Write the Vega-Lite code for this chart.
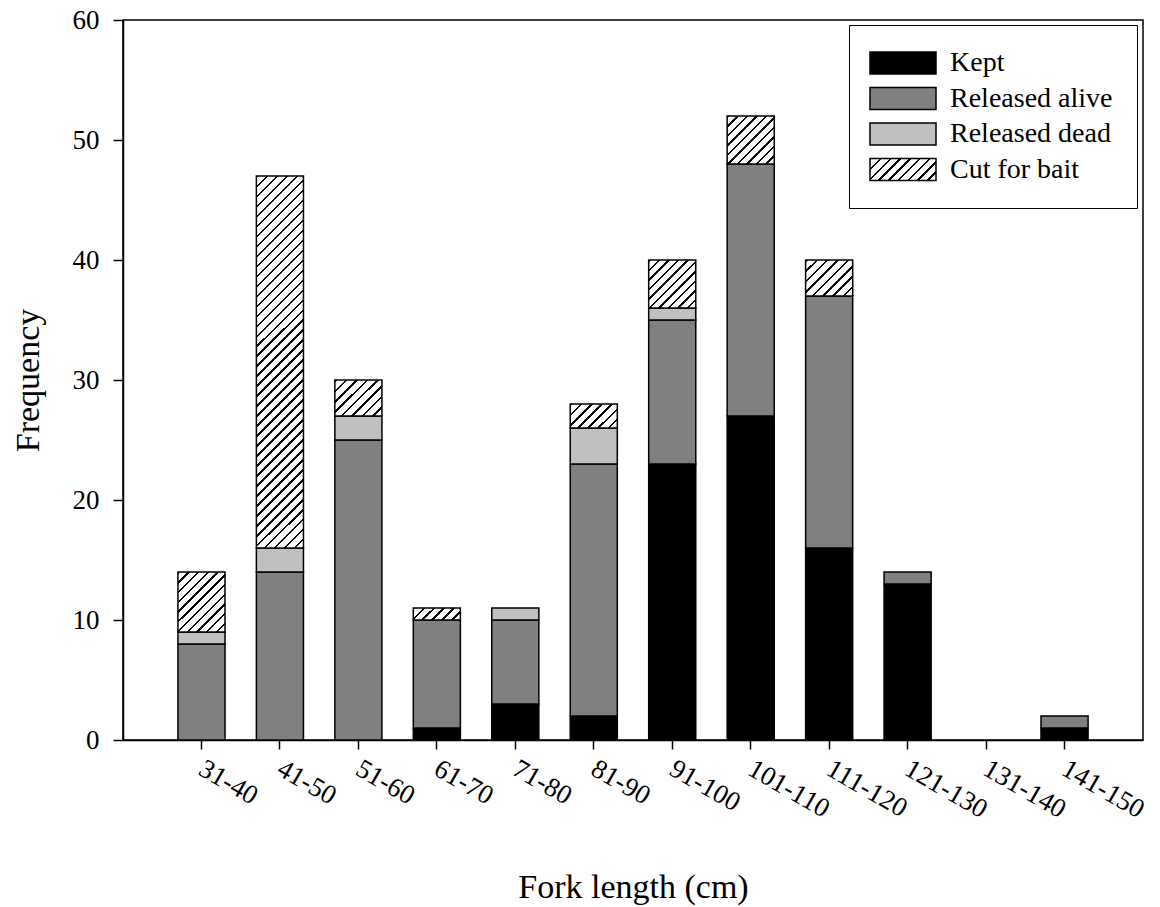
{
  "$schema": "https://vega.github.io/schema/vega-lite/v6.json",
  "autosize": {"type": "none"},
  "width": 1020,
  "height": 720,
  "padding": {"left": 123, "top": 20, "right": 17, "bottom": 167},
  "background": "white",
  "config": {
    "font": "Liberation Serif",
    "view": {"stroke": "black", "strokeWidth": 1.5},
    "axis": {
      "grid": false,
      "domainColor": "black",
      "domainWidth": 1.5,
      "tickColor": "black",
      "tickWidth": 1.5,
      "labelColor": "black",
      "labelFont": "Liberation Serif",
      "labelFontSize": 27,
      "titleFont": "Liberation Serif",
      "titleFontSize": 34,
      "titleFontWeight": "normal",
      "titleColor": "black"
    }
  },
  "data": {
    "values": [
      {"bin": "31-40", "status": "Released alive", "count": 8},
      {"bin": "31-40", "status": "Released dead", "count": 1},
      {"bin": "31-40", "status": "Cut for bait", "count": 5},
      {"bin": "41-50", "status": "Released alive", "count": 14},
      {"bin": "41-50", "status": "Released dead", "count": 2},
      {"bin": "41-50", "status": "Cut for bait", "count": 31},
      {"bin": "51-60", "status": "Released alive", "count": 25},
      {"bin": "51-60", "status": "Released dead", "count": 2},
      {"bin": "51-60", "status": "Cut for bait", "count": 3},
      {"bin": "61-70", "status": "Kept", "count": 1},
      {"bin": "61-70", "status": "Released alive", "count": 9},
      {"bin": "61-70", "status": "Cut for bait", "count": 1},
      {"bin": "71-80", "status": "Kept", "count": 3},
      {"bin": "71-80", "status": "Released alive", "count": 7},
      {"bin": "71-80", "status": "Released dead", "count": 1},
      {"bin": "81-90", "status": "Kept", "count": 2},
      {"bin": "81-90", "status": "Released alive", "count": 21},
      {"bin": "81-90", "status": "Released dead", "count": 3},
      {"bin": "81-90", "status": "Cut for bait", "count": 2},
      {"bin": "91-100", "status": "Kept", "count": 23},
      {"bin": "91-100", "status": "Released alive", "count": 12},
      {"bin": "91-100", "status": "Released dead", "count": 1},
      {"bin": "91-100", "status": "Cut for bait", "count": 4},
      {"bin": "101-110", "status": "Kept", "count": 27},
      {"bin": "101-110", "status": "Released alive", "count": 21},
      {"bin": "101-110", "status": "Cut for bait", "count": 4},
      {"bin": "111-120", "status": "Kept", "count": 16},
      {"bin": "111-120", "status": "Released alive", "count": 21},
      {"bin": "111-120", "status": "Cut for bait", "count": 3},
      {"bin": "121-130", "status": "Kept", "count": 13},
      {"bin": "121-130", "status": "Released alive", "count": 1},
      {"bin": "141-150", "status": "Kept", "count": 1},
      {"bin": "141-150", "status": "Released alive", "count": 1}
    ]
  },
  "transform": [
    {"calculate": "indexof(['Kept','Released alive','Released dead','Cut for bait'], datum.status)", "as": "rank"}
  ],
  "mark": {"type": "bar", "stroke": "black", "strokeWidth": 1.5},
  "encoding": {
    "x": {
      "field": "bin",
      "type": "nominal",
      "scale": {
        "domain": ["31-40","41-50","51-60","61-70","71-80","81-90","91-100","101-110","111-120","121-130","131-140","141-150"],
        "paddingInner": 0.4,
        "paddingOuter": 0.7
      },
      "axis": {
        "title": "Fork length (cm)",
        "labelAngle": 30,
        "labelAlign": "left",
        "labelBaseline": "top",
        "labelOffset": 6,
        "tickSize": 9,
        "labelPadding": 6,
        "titleY": 157,
        "titleBaseline": "alphabetic"
      }
    },
    "y": {
      "field": "count",
      "type": "quantitative",
      "stack": "zero",
      "scale": {"domain": [0, 60], "nice": false},
      "axis": {
        "title": "Frequency",
        "values": [0, 10, 20, 30, 40, 50, 60],
        "tickSize": 10,
        "labelPadding": 14,
        "titleX": -85,
        "titleBaseline": "alphabetic"
      }
    },
    "order": {"field": "rank", "type": "quantitative"},
    "fill": {
      "field": "status",
      "type": "nominal",
      "scale": {
        "domain": ["Kept", "Released alive", "Released dead", "Cut for bait"],
        "range": ["#000000", "#808080", "#c0c0c0",
          {"expr": "{gradient: 'linear', x1: 0, y1: 0, x2: 1.2, y2: 0.4, stops: [{offset: 0, color: '#000'}, {offset: 0.0278, color: '#000'}, {offset: 0.0278, color: '#fff'}, {offset: 0.1111, color: '#fff'}, {offset: 0.1111, color: '#000'}, {offset: 0.1389, color: '#000'}, {offset: 0.1389, color: '#fff'}, {offset: 0.2222, color: '#fff'}, {offset: 0.2222, color: '#000'}, {offset: 0.25, color: '#000'}, {offset: 0.25, color: '#fff'}, {offset: 0.3333, color: '#fff'}, {offset: 0.3333, color: '#000'}, {offset: 0.3611, color: '#000'}, {offset: 0.3611, color: '#fff'}, {offset: 0.4444, color: '#fff'}, {offset: 0.4444, color: '#000'}, {offset: 0.4722, color: '#000'}, {offset: 0.4722, color: '#fff'}, {offset: 0.5556, color: '#fff'}, {offset: 0.5556, color: '#000'}, {offset: 0.5833, color: '#000'}, {offset: 0.5833, color: '#fff'}, {offset: 0.6667, color: '#fff'}, {offset: 0.6667, color: '#000'}, {offset: 0.6944, color: '#000'}, {offset: 0.6944, color: '#fff'}, {offset: 0.7778, color: '#fff'}, {offset: 0.7778, color: '#000'}, {offset: 0.8056, color: '#000'}, {offset: 0.8056, color: '#fff'}, {offset: 0.8889, color: '#fff'}, {offset: 0.8889, color: '#000'}, {offset: 0.9167, color: '#000'}, {offset: 0.9167, color: '#fff'}, {offset: 1, color: '#fff'}]}"}
        ]
      },
      "condition": [
        {"test": "datum.status === 'Cut for bait' && datum.count === 1", "value": {"gradient": "linear", "x1": 0, "y1": 0, "x2": 1.1785, "y2": 0.3009, "stops": [
          {"offset":0,"color":"#000"},{"offset":0.0417,"color":"#000"},{"offset":0.0417,"color":"#fff"},{"offset":0.1667,"color":"#fff"},
          {"offset":0.1667,"color":"#000"},{"offset":0.2083,"color":"#000"},{"offset":0.2083,"color":"#fff"},{"offset":0.3333,"color":"#fff"},
          {"offset":0.3333,"color":"#000"},{"offset":0.375,"color":"#000"},{"offset":0.375,"color":"#fff"},{"offset":0.5,"color":"#fff"},
          {"offset":0.5,"color":"#000"},{"offset":0.5417,"color":"#000"},{"offset":0.5417,"color":"#fff"},{"offset":0.6667,"color":"#fff"},
          {"offset":0.6667,"color":"#000"},{"offset":0.7083,"color":"#000"},{"offset":0.7083,"color":"#fff"},{"offset":0.8333,"color":"#fff"},
          {"offset":0.8333,"color":"#000"},{"offset":0.875,"color":"#000"},{"offset":0.875,"color":"#fff"},{"offset":1,"color":"#fff"}
        ]}},
        {"test": "datum.status === 'Cut for bait' && datum.count === 2", "value": {"gradient": "linear", "x1": 0, "y1": 0, "x2": 1.1982, "y2": 0.6119, "stops": [
          {"offset":0,"color":"#000"},{"offset":0.0357,"color":"#000"},{"offset":0.0357,"color":"#fff"},{"offset":0.1429,"color":"#fff"},
          {"offset":0.1429,"color":"#000"},{"offset":0.1786,"color":"#000"},{"offset":0.1786,"color":"#fff"},{"offset":0.2857,"color":"#fff"},
          {"offset":0.2857,"color":"#000"},{"offset":0.3214,"color":"#000"},{"offset":0.3214,"color":"#fff"},{"offset":0.4286,"color":"#fff"},
          {"offset":0.4286,"color":"#000"},{"offset":0.4643,"color":"#000"},{"offset":0.4643,"color":"#fff"},{"offset":0.5714,"color":"#fff"},
          {"offset":0.5714,"color":"#000"},{"offset":0.6071,"color":"#000"},{"offset":0.6071,"color":"#fff"},{"offset":0.7143,"color":"#fff"},
          {"offset":0.7143,"color":"#000"},{"offset":0.75,"color":"#000"},{"offset":0.75,"color":"#fff"},{"offset":0.8571,"color":"#fff"},
          {"offset":0.8571,"color":"#000"},{"offset":0.8929,"color":"#000"},{"offset":0.8929,"color":"#fff"},{"offset":1,"color":"#fff"}
        ]}},
        {"test": "datum.status === 'Cut for bait' && datum.count === 3", "value": {"gradient": "linear", "x1": 0, "y1": 0, "x2": 1.113, "y2": 0.8525, "stops": [
          {"offset":0,"color":"#000"},{"offset":0.0313,"color":"#000"},{"offset":0.0313,"color":"#fff"},{"offset":0.125,"color":"#fff"},
          {"offset":0.125,"color":"#000"},{"offset":0.1563,"color":"#000"},{"offset":0.1563,"color":"#fff"},{"offset":0.25,"color":"#fff"},
          {"offset":0.25,"color":"#000"},{"offset":0.2813,"color":"#000"},{"offset":0.2813,"color":"#fff"},{"offset":0.375,"color":"#fff"},
          {"offset":0.375,"color":"#000"},{"offset":0.4063,"color":"#000"},{"offset":0.4063,"color":"#fff"},{"offset":0.5,"color":"#fff"},
          {"offset":0.5,"color":"#000"},{"offset":0.5313,"color":"#000"},{"offset":0.5313,"color":"#fff"},{"offset":0.625,"color":"#fff"},
          {"offset":0.625,"color":"#000"},{"offset":0.6563,"color":"#000"},{"offset":0.6563,"color":"#fff"},{"offset":0.75,"color":"#fff"},
          {"offset":0.75,"color":"#000"},{"offset":0.7813,"color":"#000"},{"offset":0.7813,"color":"#fff"},{"offset":0.875,"color":"#fff"},
          {"offset":0.875,"color":"#000"},{"offset":0.9063,"color":"#000"},{"offset":0.9063,"color":"#fff"},{"offset":1,"color":"#fff"}
        ]}},
        {"test": "datum.status === 'Cut for bait' && datum.count === 4", "value": {"gradient": "linear", "x1": 0, "y1": 0, "x2": 0.9894, "y2": 1.0104, "stops": [
          {"offset":0,"color":"#000"},{"offset":0.025,"color":"#000"},{"offset":0.025,"color":"#fff"},{"offset":0.1,"color":"#fff"},
          {"offset":0.1,"color":"#000"},{"offset":0.125,"color":"#000"},{"offset":0.125,"color":"#fff"},{"offset":0.2,"color":"#fff"},
          {"offset":0.2,"color":"#000"},{"offset":0.225,"color":"#000"},{"offset":0.225,"color":"#fff"},{"offset":0.3,"color":"#fff"},
          {"offset":0.3,"color":"#000"},{"offset":0.325,"color":"#000"},{"offset":0.325,"color":"#fff"},{"offset":0.4,"color":"#fff"},
          {"offset":0.4,"color":"#000"},{"offset":0.425,"color":"#000"},{"offset":0.425,"color":"#fff"},{"offset":0.5,"color":"#fff"},
          {"offset":0.5,"color":"#000"},{"offset":0.525,"color":"#000"},{"offset":0.525,"color":"#fff"},{"offset":0.6,"color":"#fff"},
          {"offset":0.6,"color":"#000"},{"offset":0.625,"color":"#000"},{"offset":0.625,"color":"#fff"},{"offset":0.7,"color":"#fff"},
          {"offset":0.7,"color":"#000"},{"offset":0.725,"color":"#000"},{"offset":0.725,"color":"#fff"},{"offset":0.8,"color":"#fff"},
          {"offset":0.8,"color":"#000"},{"offset":0.825,"color":"#000"},{"offset":0.825,"color":"#fff"},{"offset":0.9,"color":"#fff"},
          {"offset":0.9,"color":"#000"},{"offset":0.925,"color":"#000"},{"offset":0.925,"color":"#fff"},{"offset":1,"color":"#fff"}
        ]}},
        {"test": "datum.status === 'Cut for bait' && datum.count === 5", "value": {"gradient": "linear", "x1": 0, "y1": 0, "x2": 0.8657, "y2": 1.1052, "stops": [
          {"offset":0,"color":"#000"},{"offset":0.0227,"color":"#000"},{"offset":0.0227,"color":"#fff"},{"offset":0.0909,"color":"#fff"},
          {"offset":0.0909,"color":"#000"},{"offset":0.1136,"color":"#000"},{"offset":0.1136,"color":"#fff"},{"offset":0.1818,"color":"#fff"},
          {"offset":0.1818,"color":"#000"},{"offset":0.2045,"color":"#000"},{"offset":0.2045,"color":"#fff"},{"offset":0.2727,"color":"#fff"},
          {"offset":0.2727,"color":"#000"},{"offset":0.2955,"color":"#000"},{"offset":0.2955,"color":"#fff"},{"offset":0.3636,"color":"#fff"},
          {"offset":0.3636,"color":"#000"},{"offset":0.3864,"color":"#000"},{"offset":0.3864,"color":"#fff"},{"offset":0.4545,"color":"#fff"},
          {"offset":0.4545,"color":"#000"},{"offset":0.4773,"color":"#000"},{"offset":0.4773,"color":"#fff"},{"offset":0.5455,"color":"#fff"},
          {"offset":0.5455,"color":"#000"},{"offset":0.5682,"color":"#000"},{"offset":0.5682,"color":"#fff"},{"offset":0.6364,"color":"#fff"},
          {"offset":0.6364,"color":"#000"},{"offset":0.6591,"color":"#000"},{"offset":0.6591,"color":"#fff"},{"offset":0.7273,"color":"#fff"},
          {"offset":0.7273,"color":"#000"},{"offset":0.75,"color":"#000"},{"offset":0.75,"color":"#fff"},{"offset":0.8182,"color":"#fff"},
          {"offset":0.8182,"color":"#000"},{"offset":0.8409,"color":"#000"},{"offset":0.8409,"color":"#fff"},{"offset":0.9091,"color":"#fff"},
          {"offset":0.9091,"color":"#000"},{"offset":0.9318,"color":"#000"},{"offset":0.9318,"color":"#fff"},{"offset":1,"color":"#fff"}
        ]}},
        {"test": "datum.status === 'Cut for bait' && datum.count === 31", "value": {"gradient": "linear", "x1": 0, "y1": 0, "x2": 0.1401, "y2": 1.1086, "stops": [
          {"offset":0,"color":"#000"},{"offset":0.006,"color":"#000"},{"offset":0.006,"color":"#fff"},{"offset":0.0238,"color":"#fff"},
          {"offset":0.0238,"color":"#000"},{"offset":0.0298,"color":"#000"},{"offset":0.0298,"color":"#fff"},{"offset":0.0476,"color":"#fff"},
          {"offset":0.0476,"color":"#000"},{"offset":0.0536,"color":"#000"},{"offset":0.0536,"color":"#fff"},{"offset":0.0714,"color":"#fff"},
          {"offset":0.0714,"color":"#000"},{"offset":0.0774,"color":"#000"},{"offset":0.0774,"color":"#fff"},{"offset":0.0952,"color":"#fff"},
          {"offset":0.0952,"color":"#000"},{"offset":0.1012,"color":"#000"},{"offset":0.1012,"color":"#fff"},{"offset":0.119,"color":"#fff"},
          {"offset":0.119,"color":"#000"},{"offset":0.125,"color":"#000"},{"offset":0.125,"color":"#fff"},{"offset":0.1429,"color":"#fff"},
          {"offset":0.1429,"color":"#000"},{"offset":0.1488,"color":"#000"},{"offset":0.1488,"color":"#fff"},{"offset":0.1667,"color":"#fff"},
          {"offset":0.1667,"color":"#000"},{"offset":0.1726,"color":"#000"},{"offset":0.1726,"color":"#fff"},{"offset":0.1905,"color":"#fff"},
          {"offset":0.1905,"color":"#000"},{"offset":0.1964,"color":"#000"},{"offset":0.1964,"color":"#fff"},{"offset":0.2143,"color":"#fff"},
          {"offset":0.2143,"color":"#000"},{"offset":0.2202,"color":"#000"},{"offset":0.2202,"color":"#fff"},{"offset":0.2381,"color":"#fff"},
          {"offset":0.2381,"color":"#000"},{"offset":0.244,"color":"#000"},{"offset":0.244,"color":"#fff"},{"offset":0.2619,"color":"#fff"},
          {"offset":0.2619,"color":"#000"},{"offset":0.2679,"color":"#000"},{"offset":0.2679,"color":"#fff"},{"offset":0.2857,"color":"#fff"},
          {"offset":0.2857,"color":"#000"},{"offset":0.2917,"color":"#000"},{"offset":0.2917,"color":"#fff"},{"offset":0.3095,"color":"#fff"},
          {"offset":0.3095,"color":"#000"},{"offset":0.3155,"color":"#000"},{"offset":0.3155,"color":"#fff"},{"offset":0.3333,"color":"#fff"},
          {"offset":0.3333,"color":"#000"},{"offset":0.3393,"color":"#000"},{"offset":0.3393,"color":"#fff"},{"offset":0.3571,"color":"#fff"},
          {"offset":0.3571,"color":"#000"},{"offset":0.3631,"color":"#000"},{"offset":0.3631,"color":"#fff"},{"offset":0.381,"color":"#fff"},
          {"offset":0.381,"color":"#000"},{"offset":0.3869,"color":"#000"},{"offset":0.3869,"color":"#fff"},{"offset":0.4048,"color":"#fff"},
          {"offset":0.4048,"color":"#000"},{"offset":0.4107,"color":"#000"},{"offset":0.4107,"color":"#fff"},{"offset":0.4286,"color":"#fff"},
          {"offset":0.4286,"color":"#000"},{"offset":0.4345,"color":"#000"},{"offset":0.4345,"color":"#fff"},{"offset":0.4524,"color":"#fff"},
          {"offset":0.4524,"color":"#000"},{"offset":0.4583,"color":"#000"},{"offset":0.4583,"color":"#fff"},{"offset":0.4762,"color":"#fff"},
          {"offset":0.4762,"color":"#000"},{"offset":0.4821,"color":"#000"},{"offset":0.4821,"color":"#fff"},{"offset":0.5,"color":"#fff"},
          {"offset":0.5,"color":"#000"},{"offset":0.506,"color":"#000"},{"offset":0.506,"color":"#fff"},{"offset":0.5238,"color":"#fff"},
          {"offset":0.5238,"color":"#000"},{"offset":0.5298,"color":"#000"},{"offset":0.5298,"color":"#fff"},{"offset":0.5476,"color":"#fff"},
          {"offset":0.5476,"color":"#000"},{"offset":0.5536,"color":"#000"},{"offset":0.5536,"color":"#fff"},{"offset":0.5714,"color":"#fff"},
          {"offset":0.5714,"color":"#000"},{"offset":0.5774,"color":"#000"},{"offset":0.5774,"color":"#fff"},{"offset":0.5952,"color":"#fff"},
          {"offset":0.5952,"color":"#000"},{"offset":0.6012,"color":"#000"},{"offset":0.6012,"color":"#fff"},{"offset":0.619,"color":"#fff"},
          {"offset":0.619,"color":"#000"},{"offset":0.625,"color":"#000"},{"offset":0.625,"color":"#fff"},{"offset":0.6429,"color":"#fff"},
          {"offset":0.6429,"color":"#000"},{"offset":0.6488,"color":"#000"},{"offset":0.6488,"color":"#fff"},{"offset":0.6667,"color":"#fff"},
          {"offset":0.6667,"color":"#000"},{"offset":0.6726,"color":"#000"},{"offset":0.6726,"color":"#fff"},{"offset":0.6905,"color":"#fff"},
          {"offset":0.6905,"color":"#000"},{"offset":0.6964,"color":"#000"},{"offset":0.6964,"color":"#fff"},{"offset":0.7143,"color":"#fff"},
          {"offset":0.7143,"color":"#000"},{"offset":0.7202,"color":"#000"},{"offset":0.7202,"color":"#fff"},{"offset":0.7381,"color":"#fff"},
          {"offset":0.7381,"color":"#000"},{"offset":0.744,"color":"#000"},{"offset":0.744,"color":"#fff"},{"offset":0.7619,"color":"#fff"},
          {"offset":0.7619,"color":"#000"},{"offset":0.7679,"color":"#000"},{"offset":0.7679,"color":"#fff"},{"offset":0.7857,"color":"#fff"},
          {"offset":0.7857,"color":"#000"},{"offset":0.7917,"color":"#000"},{"offset":0.7917,"color":"#fff"},{"offset":0.8095,"color":"#fff"},
          {"offset":0.8095,"color":"#000"},{"offset":0.8155,"color":"#000"},{"offset":0.8155,"color":"#fff"},{"offset":0.8333,"color":"#fff"},
          {"offset":0.8333,"color":"#000"},{"offset":0.8393,"color":"#000"},{"offset":0.8393,"color":"#fff"},{"offset":0.8571,"color":"#fff"},
          {"offset":0.8571,"color":"#000"},{"offset":0.8631,"color":"#000"},{"offset":0.8631,"color":"#fff"},{"offset":0.881,"color":"#fff"},
          {"offset":0.881,"color":"#000"},{"offset":0.8869,"color":"#000"},{"offset":0.8869,"color":"#fff"},{"offset":0.9048,"color":"#fff"},
          {"offset":0.9048,"color":"#000"},{"offset":0.9107,"color":"#000"},{"offset":0.9107,"color":"#fff"},{"offset":0.9286,"color":"#fff"},
          {"offset":0.9286,"color":"#000"},{"offset":0.9345,"color":"#000"},{"offset":0.9345,"color":"#fff"},{"offset":0.9524,"color":"#fff"},
          {"offset":0.9524,"color":"#000"},{"offset":0.9583,"color":"#000"},{"offset":0.9583,"color":"#fff"},{"offset":0.9762,"color":"#fff"},
          {"offset":0.9762,"color":"#000"},{"offset":0.9821,"color":"#000"},{"offset":0.9821,"color":"#fff"},{"offset":1,"color":"#fff"}
        ]}}
      ],
      "legend": {
        "title": null,
        "orient": "none",
        "legendX": 726,
        "legendY": 5,
        "padding": 24,
        "rowPadding": 7.5,
        "strokeColor": "black",
        "fillColor": "white",
        "symbolType": "M-1,-1H5V1H-1Z",
        "symbolSize": 484,
        "symbolOffset": -6,
        "symbolStrokeColor": "black",
        "symbolStrokeWidth": 1.5,
        "symbolOpacity": 1,
        "labelOffset": 55,
        "labelFont": "Liberation Serif",
        "labelFontSize": 28,
        "labelColor": "black",
        "labelLimit": 400
      }
    }
  }
}
